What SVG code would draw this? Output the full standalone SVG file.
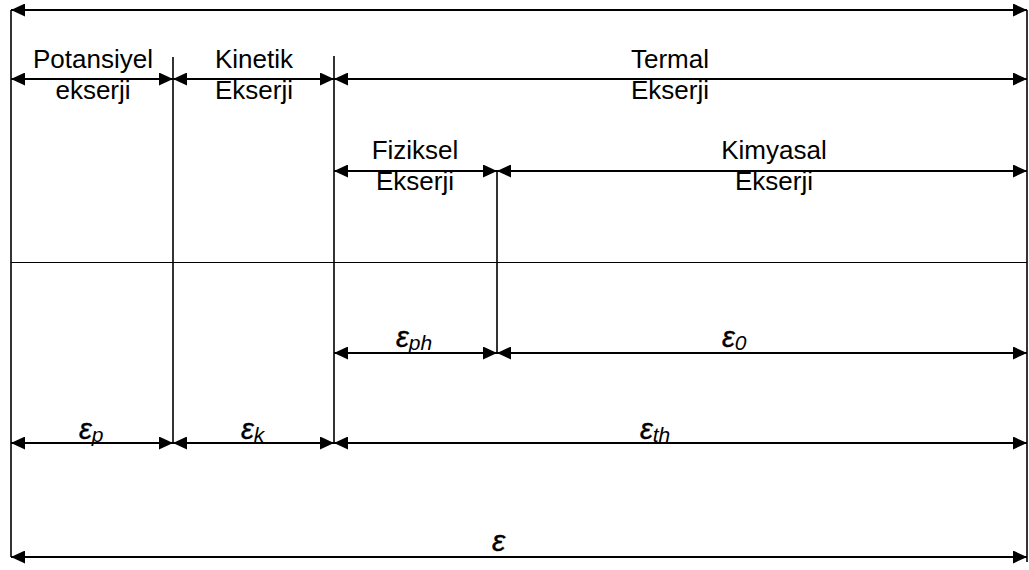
<svg xmlns="http://www.w3.org/2000/svg" width="1029" height="570" viewBox="0 0 1029 570">
  <style>
    .lbl { font-family: "Liberation Sans", Arial, sans-serif; font-size: 26px; fill: #000; text-anchor: middle; }
    .sym { font-family: "Liberation Sans", Arial, sans-serif; font-size: 29px; font-style: italic; fill: #000; stroke: #000; stroke-width: 0.35; }
    .sub { font-size: 21px; stroke-width: 0; }
    .dim { stroke: #000; stroke-width: 2.2; fill: none; marker-start: url(#ah); marker-end: url(#ah); }
    .wall { stroke: #000; stroke-width: 1.6; fill: none; }
    .rule { stroke: #000; stroke-width: 1.2; fill: none; }
  </style>
  <defs>
    <marker id="ah" viewBox="0 0 14 13" refX="14" refY="6.5" markerWidth="14" markerHeight="13" markerUnits="userSpaceOnUse" orient="auto-start-reverse">
      <path d="M0,0 L14,6.5 L0,13 z" fill="#000"/>
    </marker>
  </defs>
  <rect width="1029" height="570" fill="#fff"/>

  <!-- boundary walls -->
  <g id="walls">
    <line class="wall" x1="11" y1="10" x2="11" y2="557"/>
    <line class="wall" x1="1027" y1="10" x2="1027" y2="562"/>
    <line class="wall" x1="173" y1="57" x2="173" y2="443"/>
    <line class="wall" x1="334" y1="56" x2="334" y2="443"/>
    <line class="wall" x1="497" y1="171" x2="497" y2="353"/>
    <line class="rule" x1="11" y1="262.5" x2="1027" y2="262.5"/>
  </g>

  <!-- dimension arrows -->
  <g id="connectors">
    <line class="dim" x1="11" y1="10" x2="1027" y2="10"/>
    <line class="dim" x1="11" y1="79" x2="173" y2="79"/>
    <line class="dim" x1="173" y1="79" x2="334" y2="79"/>
    <line class="dim" x1="334" y1="79" x2="1027" y2="79"/>
    <line class="dim" x1="334" y1="171" x2="497" y2="171"/>
    <line class="dim" x1="497" y1="171" x2="1027" y2="171"/>
    <line class="dim" x1="334" y1="353" x2="497" y2="353"/>
    <line class="dim" x1="497" y1="353" x2="1027" y2="353"/>
    <line class="dim" x1="11" y1="443" x2="173" y2="443"/>
    <line class="dim" x1="173" y1="443" x2="334" y2="443"/>
    <line class="dim" x1="334" y1="443" x2="1027" y2="443"/>
    <line class="dim" x1="11" y1="557" x2="1027" y2="557"/>
  </g>

  <!-- named components -->
  <g id="potansiyel">
    <text class="lbl" x="93" y="68">Potansiyel</text>
    <text class="lbl" x="93" y="99">ekserji</text>
  </g>
  <g id="kinetik">
    <text class="lbl" x="254" y="68">Kinetik</text>
    <text class="lbl" x="254" y="99">Ekserji</text>
  </g>
  <g id="termal">
    <text class="lbl" x="670" y="68">Termal</text>
    <text class="lbl" x="670" y="99">Ekserji</text>
  </g>
  <g id="fiziksel">
    <text class="lbl" x="415" y="159">Fiziksel</text>
    <text class="lbl" x="415" y="190">Ekserji</text>
  </g>
  <g id="kimyasal">
    <text class="lbl" x="774" y="159">Kimyasal</text>
    <text class="lbl" x="774" y="190">Ekserji</text>
  </g>

  <!-- symbols -->
  <g id="eps-p"><text class="sym" x="79" y="439">ε<tspan class="sub" dy="3">p</tspan></text></g>
  <g id="eps-k"><text class="sym" x="241" y="439">ε<tspan class="sub" dy="3">k</tspan></text></g>
  <g id="eps-th"><text class="sym" x="640" y="439">ε<tspan class="sub" dy="3">th</tspan></text></g>
  <g id="eps-ph"><text class="sym" x="396" y="347">ε<tspan class="sub" dy="3">ph</tspan></text></g>
  <g id="eps-0"><text class="sym" x="722" y="347">ε<tspan class="sub" dy="3">0</tspan></text></g>
  <g id="eps"><text class="sym" x="492" y="551" style="font-size:30px">ε</text></g>
</svg>
